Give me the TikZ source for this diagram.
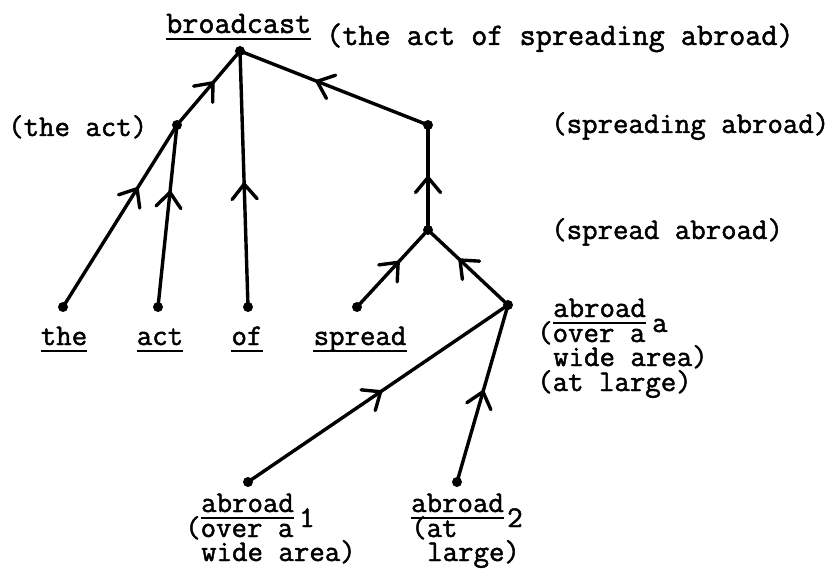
\documentclass[tikz,border=0pt]{standalone}
\usepackage{fontspec}
\newfontfamily\typewriter{Latin Modern Mono}[FakeBold=1.6]
\usetikzlibrary{decorations.markings}
\begin{document}
\begin{tikzpicture}[x=1pt,y=-1pt,
  dot/.style={circle,fill=black,inner sep=0pt,minimum size=10pt},
  edge/.style={line width=3.4pt,line cap=round},
  flow/.style={postaction={decorate},decoration={markings,
    mark=at position #1 with {\draw[line width=3.4pt,line cap=round,line join=miter]
      (-15pt,-12.5pt) -- (0pt,0pt) -- (-15pt,12.5pt);}}},
  lbl/.style={inner sep=0pt,font=\fontsize{30}{34}\typewriter,anchor=base west},
  toplbl/.style={lbl,font=\fontsize{31.3}{35}\typewriter},
  word/.style={lbl,anchor=base},
  ul/.style={line width=2pt}
]
\useasboundingbox (0,0) rectangle (838,569);

% tree nodes
\node[dot] (top)   at (240,51)  {};
\node[dot] (theact) at (177,125) {};
\node[dot] (spring) at (428,125) {};
\node[dot] (sprab) at (428,230) {};
\node[dot] (aba)   at (508,305) {};
\node[dot] (lthe)  at (63,307)  {};
\node[dot] (lact)  at (158,307) {};
\node[dot] (lof)   at (248,307) {};
\node[dot] (lspr)  at (357,307) {};
\node[dot] (ab1)   at (248,482) {};
\node[dot] (ab2)   at (457,482) {};

% branches, each marked toward its parent
\draw[edge,flow=0.65] (lthe.center) -- (theact.center);
\draw[edge,flow=0.63] (lact.center) -- (theact.center);
\draw[edge,flow=0.57] (theact.center) -- (top.center);
\draw[edge,flow=0.48] (lof.center) -- (top.center);
\draw[edge,flow=0.59] (spring.center) -- (top.center);
\draw[edge,flow=0.5] (sprab.center) -- (spring.center);
\draw[edge,flow=0.58] (lspr.center) -- (sprab.center);
\draw[edge,flow=0.6] (aba.center) -- (sprab.center);
\draw[edge,flow=0.51] (ab1.center) -- (aba.center);
\draw[edge,flow=0.51] (ab2.center) -- (aba.center);

% glosses
\node[toplbl] (bc) at (166,33) {broadcast};
\draw[ul] ([yshift=-6pt]bc.base west) -- ([yshift=-6pt]bc.base east);
\node[toplbl] (gtop) at (326,45) {(the act of spreading abroad)};
\node[lbl] (gact) at (8,136) {(the act)};
\node[lbl] (gspring) at (551,133) {(spreading abroad)};
\node[lbl] (gsprab) at (551,239) {(spread abroad)};

% leaf words
\node[word] (wthe) at (64,345) {the};
\node[word] (wact) at (160,345) {act};
\node[word] (wof) at (247,345) {of};
\node[word] (wspr) at (360,345) {spread};
\foreach \w in {wthe,wact,wof,wspr}
  \draw[ul] ([yshift=-6pt]\w.base west) -- ([yshift=-6pt]\w.base east);

% abroad (a)
\node[lbl] (aa1) at (553,317) {abroad};
\draw[ul] ([yshift=-6pt]aa1.base west) -- ([yshift=-6pt]aa1.base east);
\node[lbl] (aasub) at (652,332) {a};
\node[lbl] (aa2) at (537,342) {(over a};
\node[lbl] (aa3) at (553,366) {wide area)};
\node[lbl] (aa4) at (537,391) {(at large)};

% abroad (1)
\node[lbl] (b1a) at (201,512) {abroad};
\draw[ul] ([yshift=-6pt]b1a.base west) -- ([yshift=-6pt]b1a.base east);
\node[lbl] (b1s) at (299,527) {1};
\node[lbl] (b1b) at (185,537) {(over a};
\node[lbl] (b1c) at (201,561) {wide area)};

% abroad (2)
\node[lbl] (b2a) at (411,512) {abroad};
\draw[ul] ([yshift=-6pt]b2a.base west) -- ([yshift=-6pt]b2a.base east);
\node[lbl] (b2s) at (507,527) {2};
\node[lbl] (b2b) at (411,537) {(at};
\node[lbl] (b2c) at (427,561) {large)};
\end{tikzpicture}
\end{document}
